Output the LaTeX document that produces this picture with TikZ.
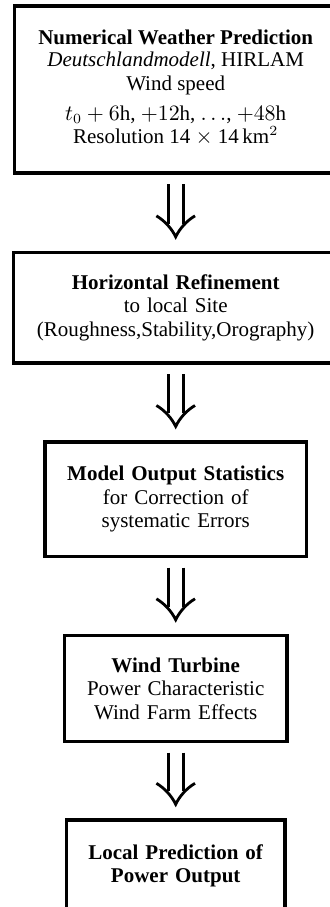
\documentclass[tikz,border=0pt]{standalone}
\usepackage[no-math]{fontspec}
\setmainfont{Liberation Serif}
\usetikzlibrary{calc}
\newcommand\dnarrow[2]{%
  \path ($(#1.south)+(0,9.5)$) coordinate (s);
  \path ($(s |- #2.north)+(0,-14)$) coordinate (t);
  \draw[dbl] ($(s)+(-7.5,0)$) -- ($(t)+(-7.5,-13)$)
             ($(s)+(7.5,0)$) -- ($(t)+(7.5,-13)$);
  \draw[dbl] ($(t)+(-19.3,-21)$) .. controls ($(t)+(-10.8,-16)$) and ($(t)+(-3.8,-8)$) .. (t)
             .. controls ($(t)+(3.8,-8)$) and ($(t)+(10.8,-16)$) .. ($(t)+(19.3,-21)$);
}
\begin{document}
\begin{tikzpicture}[x=0.5pt,y=-0.5pt,
  box/.style={draw, line width=1.7pt, inner sep=0pt,
    font=\fontsize{10.5}{11.75}\selectfont},
  para/.style={box, align=center, text width=#1},
  dbl/.style={line width=1.4pt, line cap=butt}]
\useasboundingbox (0,0) rectangle (330,907);
\clip (0,0) rectangle (330,907);
\node[box, minimum width=161pt, minimum height=83.65pt,
      font=\fontsize{10.5}{11}\selectfont] (b1) at (175.7,89.5)
  {\begin{tabular}{@{}c@{}}
   \textbf{Numerical Weather Prediction}\\
   \textit{Deutschlandmodell}, HIRLAM\\[1.25pt]
   Wind speed\\[3.75pt]
   $t_0+6$h, $+12$h, $\ldots$, $+48$h\\
   Resolution 14 $\times$ 14\,km$^2$
   \end{tabular}};
\node[para=158pt, minimum width=162.3pt, minimum height=55.25pt] (b2) at (175.7,307.8)
  {\textbf{Horizontal Refinement}\\
   to local Site\\
   (Roughness,Stability,Orography)};
\node[para=128pt, minimum width=130.85pt, minimum height=57.15pt] (b3) at (175.7,499.3)
  {\textbf{Model Output Statistics}\\
   for Correction of\\
   systematic Errors};
\node[para=108pt, minimum width=111.2pt, minimum height=53pt] (b4) at (175.7,688.5)
  {\textbf{Wind Turbine}\\
   Power Characteristic\\
   Wind Farm Effects};
\node[para=106pt, minimum width=109.15pt, minimum height=46pt] (b5) at (175.7,866)
  {\textbf{Local Prediction of}\\
   \textbf{Power Output}};
\dnarrow{b1}{b2}
\dnarrow{b2}{b3}
\dnarrow{b3}{b4}
\dnarrow{b4}{b5}
\end{tikzpicture}
\end{document}
